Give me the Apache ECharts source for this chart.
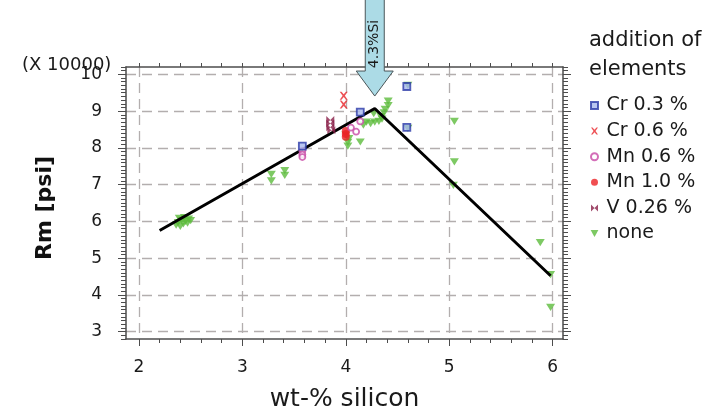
<!DOCTYPE html>
<html><head><meta charset="utf-8">
<script src="https://cdn.jsdelivr.net/npm/echarts@6/dist/echarts.min.js"></script>
<style>html,body{margin:0;padding:0;background:#fff}#c{width:718px;height:410px}</style>
</head><body><div id="c"></div>
<script>
// ---- data ----
const xTicks = [2, 3, 4, 5, 6];
const yTicks = [3, 4, 5, 6, 7, 8, 9, 10];
const xRange = [1.875, 6.1];
const yRange = [2.8, 10.2];
const legendNames = ['Cr 0.3 %', 'Cr 0.6 %', 'Mn 0.6 %', 'Mn 1.0 %', 'V 0.26 %', 'none'];
const legendTitle = 'addition of\nelements';
const xName = 'wt-% silicon';
const yName = 'Rm [psi]';
const yUnit = '(X 10000)';

const cr03 = [[3.58, 8.05], [4.14, 8.97], [4.59, 9.67], [4.59, 8.56]];
const cr06 = [[3.98, 9.42], [3.98, 9.18]];
const mn06 = [[3.58, 7.92], [3.58, 7.82], [3.58, 7.75], [4.05, 8.55], [4.1, 8.44], [4.14, 8.72]];
const mn10 = [[4.0, 8.46], [4.0, 8.38], [4.0, 8.3]];
const v026 = [[3.85, 8.76], [3.85, 8.66], [3.85, 8.56], [3.86, 8.48]];
const none = [
  [2.36, 5.9], [2.38, 5.97], [2.4, 5.86], [2.41, 6.03], [2.43, 5.93], [2.45, 6.0],
  [2.47, 5.95], [2.48, 6.06], [2.5, 6.02], [2.39, 6.08], [2.44, 6.1],
  [3.28, 7.28], [3.28, 7.1], [3.41, 7.38], [3.41, 7.25],
  [4.02, 8.05], [4.02, 8.15], [4.03, 8.25], [4.0, 8.35], [4.14, 8.16],
  [4.17, 8.62], [4.2, 8.7], [4.24, 8.66], [4.28, 8.7], [4.32, 8.72], [4.35, 8.78],
  [4.27, 8.93], [4.34, 8.85], [4.37, 8.95], [4.38, 9.05], [4.41, 9.15], [4.41, 9.27],
  [4.6, 9.7], [4.6, 8.53],
  [5.05, 8.72], [5.05, 7.62], [5.04, 6.98],
  [5.88, 5.42], [5.98, 4.55], [5.98, 3.66]
];
const trendLine = [[2.2, 5.75], [4.28, 9.07], [5.98, 4.52]];
const arrowTip = [4.28, 9.41];
const arrowLabel = '4.3%Si';

// ---- chart ----
const FONT = 'DejaVu Sans';
function stepVals(lo, hi, step, min, max) {
  const out = [];
  for (let i = 0; lo + i * step <= hi + 1e-9; i++) {
    const v = Math.round((lo + i * step) * 100) / 100;
    if (v >= min - 1e-9 && v <= max + 1e-9) out.push(v);
  }
  return out;
}
const xMinor = stepVals(2, 6, 0.2, xRange[0], xRange[1]);
const yMinor = stepVals(2.8, 10.2, 0.1, yRange[0], yRange[1]);

const frameColor = '#4d4d4d';
const gridColor = '#b3aeae';

function axisBase(type, pos, tickVals, tickLen, showLine, range) {
  return {
    type: 'value', position: pos, min: range[0], max: range[1],
    axisLine: { show: showLine, onZero: false, lineStyle: { color: frameColor, width: 1.5 } },
    axisTick: { show: true, customValues: tickVals, length: tickLen, lineStyle: { color: frameColor, width: 1 } },
    axisLabel: { show: false },
    splitLine: { show: false }
  };
}

const xMain = axisBase('x', 'bottom', xTicks, 7, true, xRange);
xMain.axisLabel = { show: true, customValues: xTicks, fontFamily: FONT, fontSize: 17, color: '#1a1a1a', margin: 20 };
xMain.splitLine = { show: true, lineStyle: { color: gridColor, width: 1.3, type: [10, 6] } };
xMain.name = xName; xMain.nameLocation = 'middle'; xMain.nameGap = 48;
xMain.nameTextStyle = { fontFamily: FONT, fontSize: 25, color: '#1a1a1a' };

const yMain = axisBase('y', 'left', yTicks, 8, true, yRange);
yMain.axisLabel = { show: true, customValues: yTicks, fontFamily: FONT, fontSize: 17, color: '#1a1a1a', margin: 24 };
yMain.splitLine = { show: true, lineStyle: { color: gridColor, width: 1.3, type: [10, 6] } };
yMain.name = yName; yMain.nameLocation = 'middle'; yMain.nameGap = 70;
yMain.nameTextStyle = { fontFamily: FONT, fontSize: 22, fontWeight: 'bold', color: '#111', padding: [0, 10, 0, 0] };

const symSquare = 'path://M0,0L10,0L10,10L0,10Z';
const symX = 'path://M0,0L2.2,0L5,3.2L7.8,0L10,0L6.4,5L10,10L7.8,10L5,6.8L2.2,10L0,10L3.6,5Z';
const symBow = 'path://M0,0L10,10L10,0L0,10Z';
const symDown = 'path://M0,0L10,0L5,9Z';

const chart = echarts.init(document.getElementById('c'), null, { renderer: 'canvas' });
chart.setOption({
  animation: false,
  backgroundColor: '#fff',
  textStyle: { fontFamily: FONT },
  grid: { left: 126, top: 67, width: 437, height: 272, containLabel: false, outerBoundsMode: 'none' },
  title: {
    text: legendTitle, left: 584, top: 21,
    textStyle: { fontFamily: FONT, fontSize: 21, lineHeight: 29, fontWeight: 'normal', color: '#1a1a1a' }
  },
  legend: {
    data: legendNames, orient: 'vertical', left: 585, top: 91,
    itemWidth: 14, itemHeight: 7, itemGap: 6.6, selectedMode: false, symbolKeepAspect: true,
    textStyle: { fontFamily: FONT, fontSize: 19, lineHeight: 19, color: '#1a1a1a' }
  },
  xAxis: [
    xMain,
    axisBase('x', 'bottom', xMinor, 4, false, xRange),
    axisBase('x', 'top', xMinor, 4, true, xRange)
  ],
  yAxis: [
    yMain,
    axisBase('y', 'left', yMinor, 5, false, yRange),
    axisBase('y', 'right', yTicks, 8, true, yRange),
    axisBase('y', 'right', yMinor, 5, false, yRange)
  ],
  series: [
    { name: 'none', type: 'scatter', data: none, symbol: symDown, symbolSize: [9, 8], symbolKeepAspect: true,
      itemStyle: { color: '#5dbb3c' }, z: 2 },
    { name: 'trend', type: 'line', data: trendLine, symbol: 'none', lineStyle: { color: '#000', width: 3 }, z: 3, silent: true },
    { name: 'V 0.26 %', type: 'scatter', data: v026, symbol: symBow, symbolSize: 8, symbolKeepAspect: true,
      itemStyle: { color: '#8a1f48' }, z: 4 },
    { name: 'Mn 1.0 %', type: 'scatter', data: mn10, symbol: 'circle', symbolSize: 8,
      itemStyle: { color: '#ec2226' }, z: 4 },
    { name: 'Mn 0.6 %', type: 'scatter', data: mn06, symbol: 'circle', symbolSize: 6,
      itemStyle: { color: '#ffffff', borderColor: '#c84aa6', borderWidth: 1.8 }, z: 4 },
    { name: 'Cr 0.6 %', type: 'scatter', data: cr06, symbol: symX, symbolSize: 8, symbolKeepAspect: true,
      itemStyle: { color: '#e8262a' }, z: 4 },
    { name: 'Cr 0.3 %', type: 'scatter', data: cr03, symbol: symSquare, symbolSize: 7, symbolKeepAspect: true,
      itemStyle: { color: '#a8b8ee', borderColor: '#2a3aa8', borderWidth: 1.8 }, z: 4 }
  ]
});

// arrow annotation positioned through the axes
const tip = chart.convertToPixel({ xAxisIndex: 0, yAxisIndex: 0 }, arrowTip);
const tx = tip[0], ty = tip[1];
chart.setOption({
  graphic: [
    { type: 'text', left: 22, top: 56, style: { text: yUnit, font: '18px "DejaVu Sans"', fill: '#1a1a1a' } },
    { type: 'polygon', z: 10,
      shape: { points: [[tx - 9.5, -3], [tx + 9.5, -3], [tx + 9.5, ty - 25], [tx + 18.5, ty - 25], [tx, ty], [tx - 18.5, ty - 25], [tx - 9.5, ty - 25]] },
      style: { fill: '#acdbe6', stroke: '#4a5558', lineWidth: 1 } },
    { type: 'text', z: 11, x: tx, y: 44, rotation: Math.PI / 2,
      style: { text: arrowLabel, font: '14px "DejaVu Sans"', fill: '#1a1a1a', align: 'center', verticalAlign: 'middle' } }
  ]
});
</script>
</body></html>
